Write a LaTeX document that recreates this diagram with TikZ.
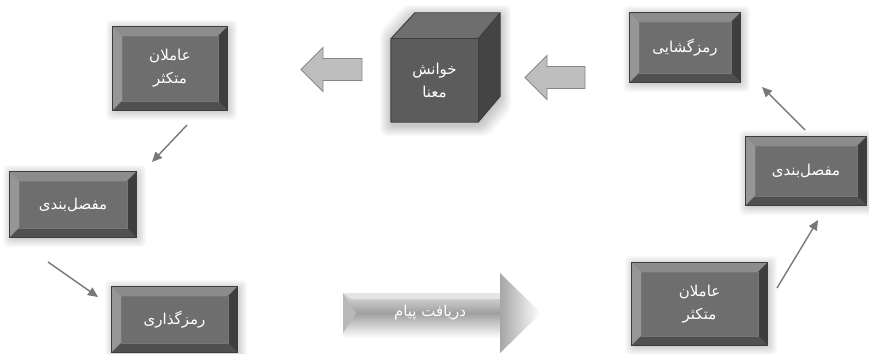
\documentclass[tikz,border=0pt]{standalone}
\usepackage{fontspec}
\newfontfamily\arabicfont[Script=Arabic]{DejaVu Sans}
\TeXXeTstate=1
\usetikzlibrary{calc,arrows.meta}
\definecolor{boxface}{RGB}{110,110,110}
\definecolor{beveltop}{RGB}{140,140,140}
\definecolor{bevelleft}{RGB}{150,150,150}
\definecolor{bevelright}{RGB}{62,62,62}
\definecolor{bevelbottom}{RGB}{80,80,80}
\definecolor{boxedge}{RGB}{60,60,60}
\definecolor{cubefront}{RGB}{92,92,92}
\definecolor{cubetop}{RGB}{110,110,110}
\definecolor{cubeside}{RGB}{68,68,68}
\definecolor{arrowgray}{RGB}{120,120,120}
\definecolor{blockfill}{RGB}{190,190,190}
\definecolor{blockedge}{RGB}{135,135,135}
\tikzset{
  boxnode/.style={draw=none, fill=boxface, inner sep=0pt, text=white,
    font=\arabicfont\fontsize{15}{23}\selectfont, align=center},
  thinarrow/.style={draw=arrowgray, line width=1.4pt, -{Triangle[length=10pt,width=9pt]}},
  blockarrow/.style={fill=blockfill, draw=blockedge, line width=0.9pt, line join=miter},
  softshadow/.style={fill=black, opacity=0.02, rounded corners=4pt},
}
\def\bw{9}
% name, cx, cy, w, h, text
\newcommand\bevbox[6]{%
  \foreach \s in {1,...,9}{%
    \fill[softshadow] (#2-#4/2-\s+2, #3-#5/2-\s+2) rectangle (#2+#4/2+\s+1, #3+#5/2+\s+1);}
  \node[boxnode, minimum width=#4pt, minimum height=#5pt] (#1) at (#2,#3) {#6};
  \fill[beveltop] (#1.north west) -- (#1.north east) -- ($(#1.north east)+(-\bw,\bw)$) -- ($(#1.north west)+(\bw,\bw)$) -- cycle;
  \fill[bevelleft] (#1.north west) -- ($(#1.north west)+(\bw,\bw)$) -- ($(#1.south west)+(\bw,-\bw)$) -- (#1.south west) -- cycle;
  \fill[bevelright] (#1.north east) -- (#1.south east) -- ($(#1.south east)+(-\bw,-\bw)$) -- ($(#1.north east)+(-\bw,\bw)$) -- cycle;
  \fill[bevelbottom] (#1.south west) -- (#1.south east) -- ($(#1.south east)+(-\bw,-\bw)$) -- ($(#1.south west)+(\bw,-\bw)$) -- cycle;
  \draw[boxedge!70, line width=0.3pt] ($(#1.north west)+(\bw,\bw)$) rectangle ($(#1.south east)+(-\bw,-\bw)$);
  \draw[boxedge, line width=0.9pt] (#1.north west) rectangle (#1.south east);
}
% tip x, tip y, total length
\newcommand\leftblock[3]{%
  \path[blockarrow] (#1,#2) -- (#1+22,#2-22) -- (#1+22,#2-11) -- (#1+#3,#2-11) -- (#1+#3,#2+11) -- (#1+22,#2+11) -- (#1+22,#2+22) -- cycle;
}
\begin{document}
\begin{tikzpicture}[x=1pt,y=-1pt]
\useasboundingbox (0,0) rectangle (869,353);
\fill[white] (0,0) rectangle (869,353);

% boxes
\bevbox{actorsL}{170}{68.5}{114}{83}{\beginR عاملان\endR\\\beginR متکثر\endR}
\bevbox{articL}{73}{204.5}{126}{65}{\beginR مفصل‌بندی\endR}
\bevbox{encode}{174.5}{319.5}{125}{65}{\beginR رمزگذاری\endR}
\bevbox{actorsR}{699.5}{304}{135}{82}{\beginR عاملان\endR\\\beginR متکثر\endR}
\bevbox{articR}{806}{171}{120}{68}{\beginR مفصل‌بندی\endR}
\bevbox{decode}{685}{47.5}{110}{69}{\beginR رمزگشایی\endR}

% cube
\foreach \s in {1,...,11}{%
  \fill[softshadow, opacity=0.02, rounded corners=6pt] (391-\s, 39-\s+3) -- (415-\s,13-\s+3) -- (500+\s,13-\s+3) -- (500+\s,96+\s+3) -- (478+\s,122+\s+3) -- (391-\s,122+\s+3) -- cycle;}
\node[boxnode, fill=cubefront, minimum width=87pt, minimum height=83pt] (reading) at (434.5,80.5) {\beginR خوانش\endR\\\beginR معنا\endR};
\fill[cubetop] (reading.north west) -- ++(24,-26) -- ($(reading.north east)+(22,-26)$) -- (reading.north east) -- cycle;
\fill[cubeside] (reading.north east) -- ++(22,-26) -- ($(reading.south east)+(22,-26)$) -- (reading.south east) -- cycle;
\draw[boxedge, line width=0.9pt, line join=round] (reading.north west) -- ++(24,-26) -- ($(reading.north east)+(22,-26)$) -- ($(reading.south east)+(22,-26)$) -- (reading.south east) -- (reading.south west) -- cycle;
\draw[boxedge, line width=0.9pt] (reading.north west) -- (reading.north east) -- (reading.south east);
\draw[boxedge, line width=0.9pt] (reading.north east) -- ++(22,-26);

% block arrows
\leftblock{301}{69.5}{61}
\leftblock{525}{77.5}{60}

% receive arrow
\shade[top color=gray!25, bottom color=gray!75] (343,293) -- (500,293) -- (500,313) -- (343,313) -- cycle;
\shade[top color=gray!75, bottom color=white] (343,313) -- (500,313) -- (500,338) -- (343,338) -- cycle;
\shade[left color=gray!70, right color=white] (500,273) -- (541,313) -- (500,353) -- cycle;
\fill[gray!55] (343,293) -- (356,313) -- (343,333) -- cycle;
\fill[gray!20] (343,293) -- (500,293) -- (500,299) -- (352,299) -- cycle;
\node[text=white, font=\arabicfont\fontsize{15}{17}\selectfont, inner sep=0pt] (receive) at (430,313) {\beginR دریافت پیام\endR};

% thin arrows
\coordinate (a1s) at (187,125); \coordinate (a1e) at (152,162);
\coordinate (a2s) at (48,262);  \coordinate (a2e) at (98,297);
\coordinate (a3s) at (777,288); \coordinate (a3e) at (818,220);
\coordinate (a4s) at (805,130); \coordinate (a4e) at (762,87);
\draw[thinarrow] (a1s) -- (a1e);
\draw[thinarrow] (a2s) -- (a2e);
\draw[thinarrow] (a3s) -- (a3e);
\draw[thinarrow] (a4s) -- (a4e);
\end{tikzpicture}
\end{document}
